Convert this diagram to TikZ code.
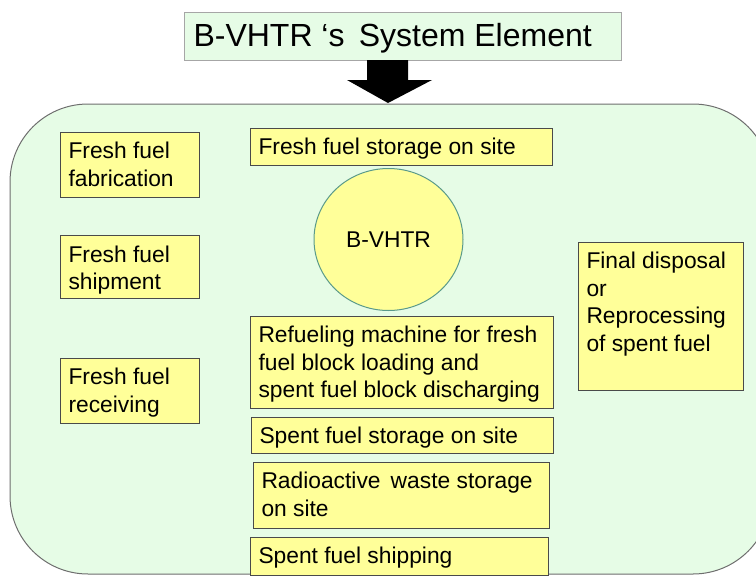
\documentclass[tikz,border=0pt]{standalone}
\usepackage{fontspec}
\setmainfont{Liberation Sans}
\usetikzlibrary{shapes.geometric}
\definecolor{bggreen}{HTML}{E6FCE6}
\definecolor{boxyellow}{HTML}{FFFF99}
\definecolor{boxborder}{HTML}{4A4A4A}
\definecolor{outerborder}{HTML}{6E6E6E}
\definecolor{circborder}{HTML}{5A9A8A}
% #1 box height, #2 text width, #3 text
\newcommand\boxtxt[3]{\parbox[c][#1][t]{#2}{\raggedright\vspace*{10pt}#3}}
\begin{document}
\begin{tikzpicture}[x=1pt,y=-1pt,
  every node/.style={font=\fontsize{22.8}{27.5}\selectfont},
  ybox/.style={draw=boxborder, line width=1pt, fill=boxyellow, inner ysep=0pt, inner xsep=8.5pt, anchor=center},
]
\useasboundingbox (0,0) rectangle (756,576);
\begin{scope}
\clip (0,0) rectangle (756,576);
% outer rounded panel
\draw[fill=bggreen, draw=outerborder, line width=1pt, rounded corners=78pt] (10,104) rectangle (771,574);
\end{scope}
% title
\node[draw=gray!70, line width=1pt, fill=bggreen, inner ysep=0pt, inner xsep=9pt,
      font=\fontsize{32}{38}\selectfont] (title) at (403,36)
  {\parbox[c][48pt][t]{419pt}{\vspace*{11.5pt}B-VHTR ‘s\, System Element}};
% arrow
\fill[black] (367,60) -- (408,60) -- (408,80) -- (432,80) -- (388,103) -- (347,80) -- (367,80) -- cycle;
% left column
\node[ybox] (fab) at (129.5,164.5) {\boxtxt{65pt}{122pt}{Fresh fuel\\fabrication}};
\node[ybox] (ship) at (129.5,267) {\boxtxt{63pt}{122pt}{Fresh fuel\\shipment}};
\node[ybox] (recv) at (129.5,390.5) {\boxtxt{65pt}{122pt}{Fresh fuel\\receiving}};
% centre column
\node[ybox] (fstore) at (401,146.5) {\boxtxt{37pt}{285pt}{Fresh fuel storage on site}};
\node[ellipse, draw=circborder, line width=1pt, fill=boxyellow, minimum width=149pt, minimum height=142pt, inner sep=0pt] (reactor) at (388.5,239.5) {B-VHTR};
\node[ybox] (refuel) at (401.5,362) {\boxtxt{92pt}{286pt}{Refueling machine for fresh\\fuel block loading and\\spent fuel block discharging}};
\node[ybox] (sstore) at (402,435) {\boxtxt{36pt}{285pt}{Spent fuel storage on site}};
\node[ybox] (waste) at (401,495) {\boxtxt{66pt}{279pt}{Radioactive\, waste storage\\on site}};
\node[ybox] (sship) at (399,556) {\boxtxt{38pt}{281pt}{Spent fuel shipping}};
% right
\node[ybox] (final) at (660.5,316) {\boxtxt{148pt}{148pt}{Final disposal\\or\\Reprocessing\\of spent fuel}};
\end{tikzpicture}
\end{document}
